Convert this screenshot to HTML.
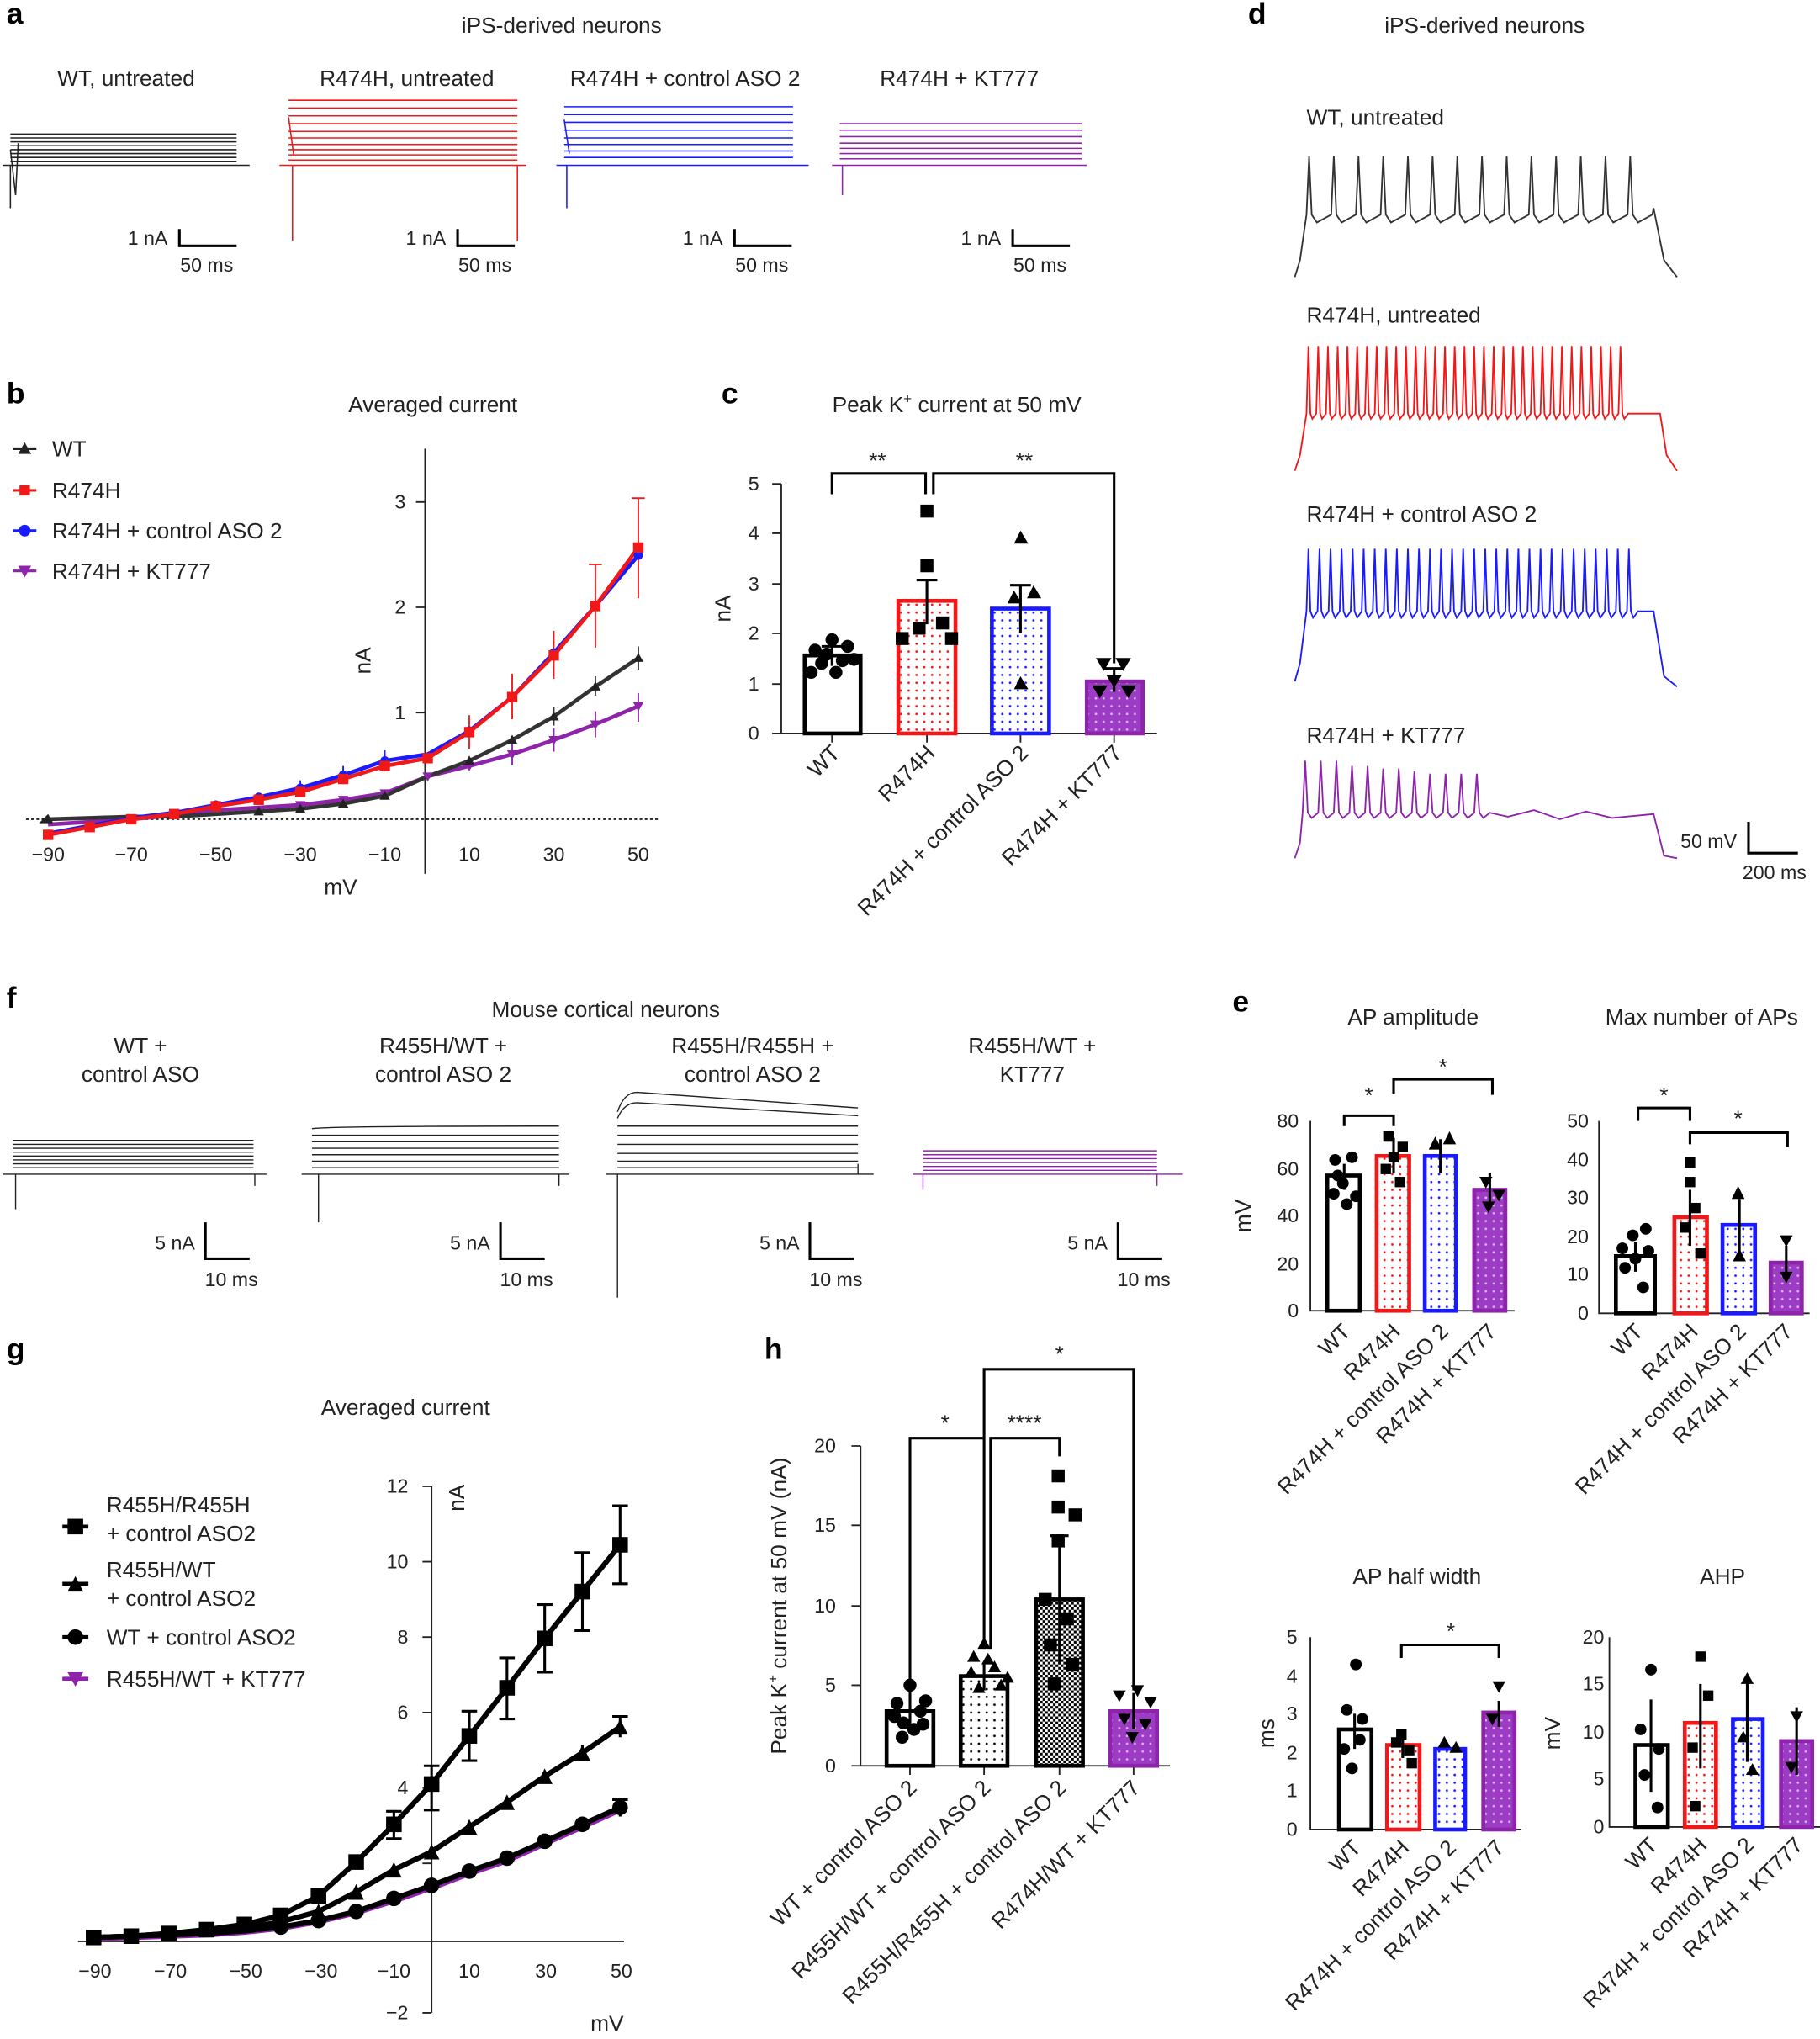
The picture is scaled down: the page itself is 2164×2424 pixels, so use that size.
<!DOCTYPE html>
<html><head><meta charset="utf-8"><style>
html,body{margin:0;padding:0;background:#fff}
svg{display:block}
text{font-family:"Liberation Sans",sans-serif;fill:#222}
.t{font-size:17px}.k{font-size:15px}.L{font-size:23px;font-weight:bold;fill:#000}
</style></head><body>
<svg width="2164" height="2424" viewBox="0 0 1400 1568" xmlns="http://www.w3.org/2000/svg">
<defs>
<pattern id="pr" width="6" height="6" patternUnits="userSpaceOnUse"><rect width="6" height="6" fill="#fff"/><circle cx="3" cy="3" r="0.9" fill="#f01818"/></pattern>
<pattern id="pb" width="6" height="6" patternUnits="userSpaceOnUse"><rect width="6" height="6" fill="#fff"/><circle cx="3" cy="3" r="0.9" fill="#1a1aff"/></pattern>
<pattern id="pp" width="6" height="6" patternUnits="userSpaceOnUse"><rect width="6" height="6" fill="#9c3cc4"/><circle cx="3" cy="3" r="0.9" fill="#d9b3ea"/></pattern>
<pattern id="pk" width="6" height="6" patternUnits="userSpaceOnUse"><rect width="6" height="6" fill="#fff"/><circle cx="3" cy="3" r="0.9" fill="#000"/></pattern>
<pattern id="pc" width="4" height="4" patternUnits="userSpaceOnUse"><rect width="4" height="4" fill="#fff"/><rect width="2" height="2" fill="#000"/><rect x="2" y="2" width="2" height="2" fill="#000"/></pattern>
</defs>

<!-- Panel a -->
<text class="L" x="5" y="18">a</text>
<text class="t" x="432" y="25" text-anchor="middle">iPS-derived neurons</text>
<text class="t" x="97" y="66" text-anchor="middle">WT, untreated</text>
<text class="t" x="313" y="66" text-anchor="middle">R474H, untreated</text>
<text class="t" x="527" y="66" text-anchor="middle">R474H + control ASO 2</text>
<text class="t" x="738" y="66" text-anchor="middle">R474H + KT777</text>
<path d="M8,103H182M8,106H182M8,109H182M8,112H182M8,115H182M8,118H182M8,121H182M8,124H182M2,127H192M8,127V160M8,115L12,150L14,110" stroke="#222" stroke-width="1" fill="none"/>
<path d="M222,77H398M222,83H398M222,89H398M222,95H398M222,101H398M222,106H398M222,111H398M222,115H398M222,119H398M222,123H398M215,127H405M225,127V185M398,127V185M222,90L226,120" stroke="#f01818" stroke-width="1" fill="none"/>
<path d="M434,82H610M434,88H610M434,94H610M434,100H610M434,106H610M434,111H610M434,116H610M434,121H610M428,127H622M436,127V160M434,92L438,118" stroke="#1a1aff" stroke-width="1" fill="none"/>
<path d="M646,95H832M646,100H832M646,105H832M646,110H832M646,114H832M646,118H832M646,122H832M640,127H836M648,127V150" stroke="#8e24aa" stroke-width="1" fill="none"/>
<g stroke="#000" stroke-width="2" fill="none">
<path d="M138,176V189H182"/><path d="M352,176V189H396"/><path d="M565,176V189H609"/><path d="M779,176V189H823"/></g>
<g class="k"><text x="129" y="188" text-anchor="end">1 nA</text><text x="159" y="209" text-anchor="middle">50 ms</text>
<text x="343" y="188" text-anchor="end">1 nA</text><text x="373" y="209" text-anchor="middle">50 ms</text>
<text x="556" y="188" text-anchor="end">1 nA</text><text x="586" y="209" text-anchor="middle">50 ms</text>
<text x="770" y="188" text-anchor="end">1 nA</text><text x="800" y="209" text-anchor="middle">50 ms</text></g>

<!-- Panel b -->
<text class="L" x="5" y="310">b</text>
<text class="t" x="333" y="317" text-anchor="middle">Averaged current</text>
<g class="t"><text x="40" y="351">WT</text><text x="40" y="383">R474H</text><text x="40" y="414">R474H + control ASO 2</text><text x="40" y="445">R474H + KT777</text></g>
<path d="M10,345H28" stroke="#222" stroke-width="2"/><path d="M14,349L19,340L24,349Z" fill="#222"/>
<path d="M10,377H28" stroke="#f01818" stroke-width="2"/><rect x="15" y="373" width="8" height="8" fill="#f01818"/>
<path d="M10,408H28" stroke="#1a1aff" stroke-width="2"/><circle cx="19" cy="408" r="4.5" fill="#1a1aff"/>
<path d="M10,439H28" stroke="#8e24aa" stroke-width="2"/><path d="M14,435L24,435L19,444Z" fill="#8e24aa"/>
<path d="M20,630H507" stroke="#222" stroke-width="1.2" stroke-dasharray="2,2"/>
<path d="M327,345V672" stroke="#222" stroke-width="1.2"/>
<g stroke="#222" stroke-width="1.2"><path d="M320,548H327M320,467H327M320,386H327"/></g>
<g class="k" text-anchor="end"><text x="312" y="553">1</text><text x="312" y="472">2</text><text x="312" y="391">3</text></g>
<g class="k" text-anchor="middle"><text x="37" y="662">−90</text><text x="101" y="662">−70</text><text x="166" y="662">−50</text><text x="231" y="662">−30</text><text x="296" y="662">−10</text><text x="361" y="662">10</text><text x="426" y="662">30</text><text x="491" y="662">50</text></g>
<text class="t" x="285" y="508" text-anchor="middle" transform="rotate(-90 285 508)">nA</text>
<text class="t" x="262" y="688" text-anchor="middle">mV</text>
<polyline points="37,634 69,632 101,630 134,627 166,623 199,621 231,619 264,615 296,610 329,597 361,589 394,580 426,569 458,557 491,543" fill="none" stroke="#8e24aa" stroke-width="3"/>
<polyline points="37,630 69,629 101,628 134,628 166,626 199,624 231,622 264,618 296,612 329,597 361,585 394,569 426,551 458,528 491,506" fill="none" stroke="#333" stroke-width="3"/>
<polyline points="37,641 69,635 101,629 134,625 166,619 199,613 231,606 264,596 296,585 329,580 361,562 394,536 426,502 458,466 491,427" fill="none" stroke="#1a1aff" stroke-width="3"/>
<polyline points="37,642 69,636 101,630 134,626 166,620 199,615 231,609 264,599 296,589 329,583 361,563 394,536 426,504 458,466 491,421" fill="none" stroke="#f01818" stroke-width="3"/>
<g stroke="#f01818" stroke-width="1.2"><path d="M491,383V460M486,383H496M458,434V498M453,434H463M426,485V522M394,518V553M361,550V576"/></g>
<g stroke="#8e24aa" stroke-width="1.2"><path d="M491,533V555M458,547V567M426,560V578M394,572V588"/></g>
<g stroke="#333" stroke-width="1.2"><path d="M491,497V515M458,520V535M426,544V558"/></g>
<g fill="#8e24aa"><path d="M487,540H495L491,547Z M454,554H462L458,561Z M422,566H430L426,573Z M390,577H398L394,584Z M357,586H365L361,593Z M325,594H333L329,601Z M292,607H300L296,614Z M260,612H268L264,619Z M227,616H235L231,623Z"/></g>
<g fill="#222"><path d="M487,509L491,502L495,509Z M454,531L458,524L462,531Z M422,554L426,547L430,554Z M390,572L394,565L398,572Z M357,588L361,581L365,588Z M292,615L296,608L300,615Z M260,621L264,614L268,621Z M227,625L231,618L235,625Z M195,627L199,620L203,627Z M30,633L37,626L41,633Z"/></g>
<g fill="#1a1aff"><circle cx="491" cy="427" r="3.5"/><circle cx="458" cy="466" r="3.5"/><circle cx="426" cy="502" r="3.5"/><circle cx="394" cy="536" r="3.5"/><circle cx="361" cy="562" r="3.5"/><circle cx="296" cy="585" r="3.5"/><circle cx="264" cy="596" r="3.5"/><circle cx="231" cy="606" r="3.5"/><circle cx="199" cy="613" r="3.5"/><circle cx="166" cy="619" r="3.5"/></g>
<g stroke="#1a1aff" stroke-width="1.2"><path d="M296,577V593M264,589V603M231,600V612"/></g>
<g fill="#f01818"><rect x="487" y="417" width="8" height="8"/><rect x="454" y="462" width="8" height="8"/><rect x="422" y="500" width="8" height="8"/><rect x="390" y="532" width="8" height="8"/><rect x="357" y="559" width="8" height="8"/><rect x="325" y="579" width="8" height="8"/><rect x="292" y="585" width="8" height="8"/><rect x="260" y="595" width="8" height="8"/><rect x="227" y="605" width="8" height="8"/><rect x="195" y="611" width="8" height="8"/><rect x="162" y="616" width="8" height="8"/><rect x="130" y="622" width="8" height="8"/><rect x="97" y="626" width="8" height="8"/><rect x="65" y="632" width="8" height="8"/><rect x="33" y="638" width="8" height="8"/></g>

<!-- Panel c -->
<text class="L" x="555" y="310">c</text>
<text class="t" x="736" y="317" text-anchor="middle">Peak K<tspan font-size="11" dy="-7">+</tspan><tspan dy="7"> current at 50 mV</tspan></text>
<path d="M601,372V564H890" stroke="#222" stroke-width="1.2" fill="none"/>
<g stroke="#222" stroke-width="1.2"><path d="M594,372H601M594,410H601M594,449H601M594,487H601M594,526H601M594,564H601M640,564V571M713,564V571M785,564V571M857,564V571"/></g>
<g class="k" text-anchor="end"><text x="584" y="377">5</text><text x="584" y="415">4</text><text x="584" y="454">3</text><text x="584" y="492">2</text><text x="584" y="531">1</text><text x="584" y="569">0</text></g>
<text class="t" x="562" y="468" text-anchor="middle" transform="rotate(-90 562 468)">nA</text>
<rect x="619" y="504" width="43" height="60" fill="#fff" stroke="#000" stroke-width="3"/>
<rect x="691" y="462" width="44" height="102" fill="url(#pr)" stroke="#f01818" stroke-width="3"/>
<rect x="763" y="468" width="44" height="96" fill="url(#pb)" stroke="#1a1aff" stroke-width="3"/>
<rect x="836" y="524" width="43" height="40" fill="url(#pp)" stroke="#8e24aa" stroke-width="3"/>
<g stroke="#000" stroke-width="2" fill="none"><path d="M640,497V512M632,497H648M713,446V480M705,446H721M785,450V487M777,450H793M857,514V532M849,514H865"/>
<path d="M640,380V364H712V380M718,380V364H857V510"/></g>
<text x="675" y="360" text-anchor="middle" font-size="17">**</text><text x="788" y="360" text-anchor="middle" font-size="17">**</text>
<g fill="#000"><circle cx="627" cy="500" r="5"/><circle cx="640" cy="492" r="5"/><circle cx="652" cy="497" r="5"/><circle cx="632" cy="510" r="5"/><circle cx="648" cy="508" r="5"/><circle cx="657" cy="507" r="5"/><circle cx="624" cy="517" r="5"/><circle cx="643" cy="517" r="5"/><circle cx="636" cy="503" r="5"/>
<rect x="708" y="388" width="10" height="10"/><rect x="708" y="430" width="10" height="10"/><rect x="689" y="486" width="10" height="10"/><rect x="702" y="478" width="10" height="10"/><rect x="727" y="486" width="10" height="10"/><rect x="720" y="474" width="10" height="10"/>
<path d="M780,418L791,418L785,408Z M775,464L786,464L780,454Z M790,460L801,460L795,450Z M780,530L791,530L785,520Z"/>
<path d="M843,506H855L849,516Z M858,506H870L864,516Z M840,527H852L846,537Z M862,527H874L868,537Z M851,519H863L857,529Z"/></g>
<g class="t"><text text-anchor="end" transform="translate(647,580) rotate(-45)">WT</text><text text-anchor="end" transform="translate(720,580) rotate(-45)">R474H</text><text text-anchor="end" transform="translate(792,580) rotate(-45)">R474H + control ASO 2</text><text text-anchor="end" transform="translate(864,580) rotate(-45)">R474H + KT777</text></g>

<!-- Panel d -->
<text class="L" x="960" y="18">d</text>
<text class="t" x="1142" y="25" text-anchor="middle">iPS-derived neurons</text>
<g class="t"><text x="1005" y="96">WT, untreated</text><text x="1005" y="248">R474H, untreated</text><text x="1005" y="401">R474H + control ASO 2</text><text x="1005" y="571">R474H + KT777</text></g>
<path d="M996,213L1000,200L1005,165l2,-45l2,45l4,6l11,-6l2,-45l2,45l4,6l11,-6l2,-45l2,45l4,6l11,-6l2,-45l2,45l4,6l11,-6l2,-45l2,45l4,6l11,-6l2,-45l2,45l4,6l11,-6l2,-45l2,45l4,6l11,-6l2,-45l2,45l4,6l11,-6l2,-45l2,45l4,6l11,-6l2,-45l2,45l4,6l11,-6l2,-45l2,45l4,6l11,-6l2,-45l2,45l4,6l11,-6l2,-45l2,45l4,6l11,-6l2,-45l2,45l4,6l11,-6L1272,160L1280,200L1290,213" fill="none" stroke="#333" stroke-width="1.2"/>
<path d="M996,362L1000,350L1005,318l1.5,-52l1.5,52l1.5,4l3,-4l1.5,-52l1.5,52l1.5,4l3,-4l1.5,-52l1.5,52l1.5,4l3,-4l1.5,-52l1.5,52l1.5,4l3,-4l1.5,-52l1.5,52l1.5,4l3,-4l1.5,-52l1.5,52l1.5,4l3,-4l1.5,-52l1.5,52l1.5,4l3,-4l1.5,-52l1.5,52l1.5,4l3,-4l1.5,-52l1.5,52l1.5,4l3,-4l1.5,-52l1.5,52l1.5,4l3,-4l1.5,-52l1.5,52l1.5,4l3,-4l1.5,-52l1.5,52l1.5,4l3,-4l1.5,-52l1.5,52l1.5,4l3,-4l1.5,-52l1.5,52l1.5,4l3,-4l1.5,-52l1.5,52l1.5,4l3,-4l1.5,-52l1.5,52l1.5,4l3,-4l1.5,-52l1.5,52l1.5,4l3,-4l1.5,-52l1.5,52l1.5,4l3,-4l1.5,-52l1.5,52l1.5,4l3,-4l1.5,-52l1.5,52l1.5,4l3,-4l1.5,-52l1.5,52l1.5,4l3,-4l1.5,-52l1.5,52l1.5,4l3,-4l1.5,-52l1.5,52l1.5,4l3,-4l1.5,-52l1.5,52l1.5,4l3,-4l1.5,-52l1.5,52l1.5,4l3,-4l1.5,-52l1.5,52l1.5,4l3,-4l1.5,-52l1.5,52l1.5,4l3,-4l1.5,-52l1.5,52l1.5,4l3,-4l1.5,-52l1.5,52l1.5,4l3,-4l1.5,-52l1.5,52l1.5,4l3,-4l1.5,-52l1.5,52l1.5,4l3,-4l1.5,-52l1.5,52l1.5,4l3,-4l1.5,-52l1.5,52l1.5,4l3,-4L1277,318L1282,350L1290,362" fill="none" stroke="#f01818" stroke-width="1.2"/>
<path d="M996,524L1000,510L1005,470l1.5,-48l1.5,48l2,5l3.5,-5l1.5,-48l1.5,48l2,5l3.5,-5l1.5,-48l1.5,48l2,5l3.5,-5l1.5,-48l1.5,48l2,5l3.5,-5l1.5,-48l1.5,48l2,5l3.5,-5l1.5,-48l1.5,48l2,5l3.5,-5l1.5,-48l1.5,48l2,5l3.5,-5l1.5,-48l1.5,48l2,5l3.5,-5l1.5,-48l1.5,48l2,5l3.5,-5l1.5,-48l1.5,48l2,5l3.5,-5l1.5,-48l1.5,48l2,5l3.5,-5l1.5,-48l1.5,48l2,5l3.5,-5l1.5,-48l1.5,48l2,5l3.5,-5l1.5,-48l1.5,48l2,5l3.5,-5l1.5,-48l1.5,48l2,5l3.5,-5l1.5,-48l1.5,48l2,5l3.5,-5l1.5,-48l1.5,48l2,5l3.5,-5l1.5,-48l1.5,48l2,5l3.5,-5l1.5,-48l1.5,48l2,5l3.5,-5l1.5,-48l1.5,48l2,5l3.5,-5l1.5,-48l1.5,48l2,5l3.5,-5l1.5,-48l1.5,48l2,5l3.5,-5l1.5,-48l1.5,48l2,5l3.5,-5l1.5,-48l1.5,48l2,5l3.5,-5l1.5,-48l1.5,48l2,5l3.5,-5l1.5,-48l1.5,48l2,5l3.5,-5l1.5,-48l1.5,48l2,5l3.5,-5l1.5,-48l1.5,48l2,5l3.5,-5l1.5,-48l1.5,48l2,5l3.5,-5l1.5,-48l1.5,48l2,5l3.5,-5L1272,470L1280,520L1290,528" fill="none" stroke="#1a1aff" stroke-width="1.2"/>
<path d="M996,660L1000,648L1002,625l2,-40l2,40l3,4l5,-4l2,-40l2,40l3,4l5,-4l2,-40l2,40l3,4l5,-4l2,-36l2,36l3,4l5,-4l2,-36l2,36l3,4l5,-4l2,-34l2,34l3,4l5,-4l2,-34l2,34l3,4l5,-4l2,-32l2,32l3,4l5,-4l2,-30l2,30l3,4l5,-4l2,-30l2,30l3,4l5,-4l2,-30l2,30l3,4l5,-4l2,-30l2,30l3,4l5,-4L1160,628L1180,623L1200,630L1220,624L1240,629L1272,626L1280,658L1290,660" fill="none" stroke="#8e24aa" stroke-width="1.2"/>
<path d="M1345,632V656H1383" stroke="#000" stroke-width="2" fill="none"/>
<text class="k" x="1336" y="652" text-anchor="end">50 mV</text><text class="k" x="1365" y="676" text-anchor="middle">200 ms</text>

<!-- Panel f -->
<text class="L" x="5" y="775">f</text>
<text class="t" x="466" y="782" text-anchor="middle">Mouse cortical neurons</text>
<g class="t" text-anchor="middle"><text x="108" y="810">WT +</text><text x="108" y="832">control ASO</text><text x="341" y="810">R455H/WT +</text><text x="341" y="832">control ASO 2</text><text x="579" y="810">R455H/R455H +</text><text x="579" y="832">control ASO 2</text><text x="794" y="810">R455H/WT +</text><text x="794" y="832">KT777</text></g>
<path d="M10,877H195M10,880H195M10,883H195M10,886H195M10,889H195M10,892H195M10,895H195M10,898H195M2,903H205M12,903V930M196,903V912" stroke="#222" stroke-width="0.9" fill="none"/>
<path d="M240,868Q250,866 430,866M240,873H430M240,878H430M240,883H430M240,888H430M240,893H430M240,898H430M232,903H438M245,903V940M430,903V912" stroke="#222" stroke-width="0.9" fill="none"/>
<path d="M475,855Q480,840 490,840L660,852M475,860Q480,848 490,848L660,858M475,866L660,866M475,873L660,873M475,880L660,880M475,887L660,887M475,893L660,893M475,898L660,898M466,903H672M475,903V998M660,903V895" stroke="#222" stroke-width="0.9" fill="none"/>
<path d="M710,885H890M710,888H890M710,891H890M710,894H890M710,897H890M710,900H890M702,903H910M710,903V915M890,903V912" stroke="#8e24aa" stroke-width="0.9" fill="none"/>
<g stroke="#000" stroke-width="2" fill="none"><path d="M158,940V968H192"/><path d="M385,940V968H419"/><path d="M623,940V968H657"/><path d="M860,940V968H894"/></g>
<g class="k"><text x="150" y="961" text-anchor="end">5 nA</text><text x="178" y="989" text-anchor="middle">10 ms</text><text x="377" y="961" text-anchor="end">5 nA</text><text x="405" y="989" text-anchor="middle">10 ms</text><text x="615" y="961" text-anchor="end">5 nA</text><text x="643" y="989" text-anchor="middle">10 ms</text><text x="852" y="961" text-anchor="end">5 nA</text><text x="880" y="989" text-anchor="middle">10 ms</text></g>

<!-- Panel g -->
<text class="L" x="5" y="1045">g</text>
<text class="t" x="312" y="1088" text-anchor="middle">Averaged current</text>
<path d="M60,1493H480" stroke="#222" stroke-width="1.2"/>
<path d="M332,1143V1548M325,1143H332M325,1201H332M325,1259H332M325,1317H332M325,1375H332M325,1433H332M325,1548H332" stroke="#222" stroke-width="1.2" fill="none"/>
<g class="k" text-anchor="end"><text x="314" y="1148">12</text><text x="314" y="1206">10</text><text x="314" y="1264">8</text><text x="314" y="1322">6</text><text x="314" y="1380">4</text><text x="314" y="1553">−2</text></g>
<g class="k" text-anchor="middle"><text x="73" y="1521">−90</text><text x="131" y="1521">−70</text><text x="189" y="1521">−50</text><text x="247" y="1521">−30</text><text x="303" y="1521">−10</text><text x="361" y="1521">10</text><text x="420" y="1521">30</text><text x="478" y="1521">50</text></g>
<text class="t" x="467" y="1562" text-anchor="middle">mV</text>
<text class="t" x="357" y="1152" text-anchor="middle" transform="rotate(-90 357 1152)">nA</text>
<g class="t"><text x="82" y="1163">R455H/R455H</text><text x="82" y="1185">+ control ASO2</text><text x="82" y="1213">R455H/WT</text><text x="82" y="1235">+ control ASO2</text><text x="82" y="1265">WT + control ASO2</text><text x="82" y="1297">R455H/WT + KT777</text></g>
<path d="M48,1174H68" stroke="#000" stroke-width="3"/><rect x="52" y="1168" width="12" height="12"/>
<path d="M48,1218H68" stroke="#000" stroke-width="3"/><path d="M52,1224L58,1212L64,1224Z"/>
<path d="M48,1259H68" stroke="#000" stroke-width="3"/><circle cx="58" cy="1259" r="6"/>
<path d="M48,1291H68" stroke="#8e24aa" stroke-width="3"/><path d="M52,1286H64L58,1297Z" fill="#8e24aa"/>
<polyline points="72,1491 101,1490 130,1489 159,1488 188,1486 216,1483 245,1478 274,1471 303,1462 332,1452 361,1441 390,1431 419,1418 448,1405 477,1392" fill="none" stroke="#8e24aa" stroke-width="4"/>
<polyline points="72,1490 101,1489 130,1488 159,1487 188,1485 216,1482 245,1477 274,1470 303,1460 332,1450 361,1439 390,1429 419,1416 448,1403 477,1390" fill="none" stroke="#000" stroke-width="4"/>
<polyline points="72,1490 101,1489 130,1487 159,1486 188,1483 216,1478 245,1470 274,1455 303,1438 332,1424 361,1405 390,1386 419,1366 448,1348 477,1328" fill="none" stroke="#000" stroke-width="4"/>
<polyline points="72,1490 101,1489 130,1487 159,1484 188,1480 216,1473 245,1458 274,1432 303,1403 332,1372 361,1335 390,1298 419,1260 448,1224 477,1188" fill="none" stroke="#000" stroke-width="4"/>
<g stroke="#000" stroke-width="2" fill="none"><path d="M477,1158V1218M471,1158H483M471,1218H483M448,1194V1254M442,1194H454M442,1254H454M419,1234V1286M413,1234H425M413,1286H425M390,1275V1322M384,1275H396M384,1322H396M361,1316V1354M355,1316H367M355,1354H367M332,1358V1392M326,1358H338M326,1392H338M303,1393V1414M297,1393H309M297,1414H309M477,1320V1336M471,1320H483M448,1342V1354M477,1384V1397M471,1384H483"/></g>
<g fill="#000">
<rect x="471" y="1182" width="12" height="12"/><rect x="442" y="1218" width="12" height="12"/><rect x="413" y="1254" width="12" height="12"/><rect x="384" y="1292" width="12" height="12"/><rect x="355" y="1329" width="12" height="12"/><rect x="326" y="1366" width="12" height="12"/><rect x="297" y="1397" width="12" height="12"/><rect x="268" y="1426" width="12" height="12"/><rect x="239" y="1452" width="12" height="12"/><rect x="210" y="1467" width="12" height="12"/><rect x="182" y="1474" width="12" height="12"/><rect x="153" y="1478" width="12" height="12"/><rect x="124" y="1481" width="12" height="12"/><rect x="95" y="1483" width="12" height="12"/><rect x="66" y="1484" width="12" height="12"/>
<path d="M471,1334L477,1322L483,1334Z M442,1354L448,1342L454,1354Z M413,1372L419,1360L425,1372Z M384,1392L390,1380L396,1392Z M355,1411L361,1399L367,1411Z M326,1430L332,1418L338,1430Z M297,1444L303,1432L309,1444Z M268,1461L274,1449L280,1461Z M239,1476L245,1464L251,1476Z"/>
<circle cx="477" cy="1390" r="6"/><circle cx="448" cy="1403" r="6"/><circle cx="419" cy="1416" r="6"/><circle cx="390" cy="1429" r="6"/><circle cx="361" cy="1439" r="6"/><circle cx="332" cy="1450" r="6"/><circle cx="303" cy="1460" r="6"/><circle cx="274" cy="1470" r="6"/><circle cx="245" cy="1477" r="6"/><circle cx="216" cy="1482" r="6"/></g>

<!-- Panel h -->
<text class="L" x="588" y="1045">h</text>
<path d="M662,1112V1358H900" stroke="#222" stroke-width="1.2" fill="none"/>
<g stroke="#222" stroke-width="1.2"><path d="M655,1112H662M655,1173H662M655,1235H662M655,1296H662M655,1358H662M700,1358V1365M757,1358V1365M815,1358V1365M872,1358V1365"/></g>
<g class="k" text-anchor="end"><text x="643" y="1117">20</text><text x="643" y="1178">15</text><text x="643" y="1240">10</text><text x="643" y="1301">5</text><text x="643" y="1363">0</text></g>
<text class="t" x="605" y="1235" text-anchor="middle" transform="rotate(-90 605 1235)">Peak K<tspan font-size="11" dy="-7">+</tspan><tspan dy="7"> current at 50 mV (nA)</tspan></text>
<rect x="682" y="1316" width="36" height="42" fill="#fff" stroke="#000" stroke-width="3"/>
<rect x="739" y="1289" width="36" height="69" fill="url(#pk)" stroke="#000" stroke-width="3"/>
<rect x="797" y="1230" width="36" height="128" fill="url(#pc)" stroke="#000" stroke-width="3"/>
<rect x="854" y="1316" width="36" height="42" fill="url(#pp)" stroke="#8e24aa" stroke-width="3"/>
<g stroke="#000" stroke-width="2" fill="none"><path d="M700,1300V1330M757,1278V1300M815,1181V1280M808,1181H822M872,1302V1330M700,1300V1106H757V1268M762,1268V1106H815V1120M757,1110V1053H872V1300"/></g>
<g font-size="17" text-anchor="middle"><text x="727" y="1100">*</text><text x="788" y="1100">****</text><text x="815" y="1047">*</text></g>
<g fill="#000"><circle cx="690" cy="1310" r="5"/><circle cx="700" cy="1296" r="5"/><circle cx="708" cy="1316" r="5"/><circle cx="695" cy="1325" r="5"/><circle cx="712" cy="1308" r="5"/><circle cx="703" cy="1330" r="5"/><circle cx="688" cy="1320" r="5"/><circle cx="694" cy="1336" r="5"/><circle cx="710" cy="1326" r="5"/>
<path d="M752,1268L757,1259L762,1268Z M742,1290L747,1281L752,1290Z M760,1286L765,1277L770,1286Z M748,1302L753,1293L758,1302Z M765,1300L770,1291L775,1300Z M755,1280L760,1271L765,1280Z M770,1294L775,1285L780,1294Z M744,1278L749,1269L754,1278Z"/>
<rect x="809" y="1130" width="10" height="10"/><rect x="809" y="1154" width="10" height="10"/><rect x="822" y="1160" width="10" height="10"/><rect x="809" y="1180" width="10" height="10"/><rect x="799" y="1225" width="10" height="10"/><rect x="816" y="1240" width="10" height="10"/><rect x="803" y="1260" width="10" height="10"/><rect x="820" y="1275" width="10" height="10"/><rect x="806" y="1290" width="10" height="10"/>
<path d="M856,1300H866L861,1309Z M870,1296H880L875,1305Z M880,1305H890L885,1314Z M860,1318H870L865,1327Z M876,1322H886L881,1331Z M866,1332H876L871,1341Z"/></g>
<g class="t"><text text-anchor="end" transform="translate(706,1376) rotate(-45)">WT + control ASO 2</text><text text-anchor="end" transform="translate(763,1376) rotate(-45)">R455H/WT + control ASO 2</text><text text-anchor="end" transform="translate(821,1376) rotate(-45)">R455H/R455H + control ASO 2</text><text text-anchor="end" transform="translate(878,1376) rotate(-45)">R474H/WT + KT777</text></g>

<!-- Panel e -->
<text class="L" x="948" y="778">e</text>
<text class="t" x="1087" y="788" text-anchor="middle">AP amplitude</text>
<text class="t" x="1309" y="788" text-anchor="middle">Max number of APs</text>
<text class="t" x="1090" y="1218" text-anchor="middle">AP half width</text>
<text class="t" x="1325" y="1218" text-anchor="middle">AHP</text>
<!-- e1 -->
<path d="M1008,862V1008H1165" stroke="#222" stroke-width="1.2" fill="none"/>
<g class="k" text-anchor="end"><text x="999" y="867">80</text><text x="999" y="904">60</text><text x="999" y="940">40</text><text x="999" y="977">20</text><text x="999" y="1013">0</text></g>
<text class="t" x="962" y="935" text-anchor="middle" transform="rotate(-90 962 935)">mV</text>
<rect x="1021" y="904" width="25" height="104" fill="#fff" stroke="#000" stroke-width="3"/>
<rect x="1059" y="889" width="25" height="119" fill="url(#pr)" stroke="#f01818" stroke-width="3"/>
<rect x="1096" y="889" width="24" height="119" fill="url(#pb)" stroke="#1a1aff" stroke-width="3"/>
<rect x="1134" y="915" width="24" height="93" fill="url(#pp)" stroke="#8e24aa" stroke-width="3"/>
<g stroke="#000" stroke-width="2" fill="none"><path d="M1034,866V858H1072V866M1072,841V830H1148V842M1034,895V915M1072,875V902M1108,876V902M1146,902V928"/></g>
<g font-size="17" text-anchor="middle"><text x="1053" y="848">*</text><text x="1110" y="826">*</text></g>
<g fill="#000"><circle cx="1027" cy="892" r="4.5"/><circle cx="1040" cy="890" r="4.5"/><circle cx="1033" cy="910" r="4.5"/><circle cx="1043" cy="920" r="4.5"/><circle cx="1026" cy="918" r="4.5"/><circle cx="1036" cy="926" r="4.5"/><circle cx="1029" cy="904" r="4.5"/><rect x="1064" y="870" width="8" height="8"/><rect x="1075" y="878" width="8" height="8"/><rect x="1062" y="895" width="8" height="8"/><rect x="1073" y="905" width="8" height="8"/><rect x="1068" y="886" width="8" height="8"/><path d="M1099,884H1109L1104,874Z M1110,880H1120L1115,870Z M1138,905H1148L1143,914Z M1148,915H1158L1153,924Z M1140,924H1150L1145,933Z"/></g>
<!-- e2 -->
<path d="M1230,862V1010H1392" stroke="#222" stroke-width="1.2" fill="none"/>
<g class="k" text-anchor="end"><text x="1222" y="867">50</text><text x="1222" y="897">40</text><text x="1222" y="926">30</text><text x="1222" y="956">20</text><text x="1222" y="985">10</text><text x="1222" y="1015">0</text></g>
<rect x="1243" y="966" width="30" height="44" fill="#fff" stroke="#000" stroke-width="3"/>
<rect x="1288" y="936" width="25" height="74" fill="url(#pr)" stroke="#f01818" stroke-width="3"/>
<rect x="1325" y="942" width="25" height="68" fill="url(#pb)" stroke="#1a1aff" stroke-width="3"/>
<rect x="1362" y="971" width="24" height="39" fill="url(#pp)" stroke="#8e24aa" stroke-width="3"/>
<g stroke="#000" stroke-width="2" fill="none"><path d="M1260,862V852H1300V862M1300,880V871H1375V882M1258,955V978M1300,915V958M1338,922V962M1374,958V985"/></g>
<g font-size="17" text-anchor="middle"><text x="1280" y="848">*</text><text x="1337" y="866">*</text></g>
<g fill="#000"><circle cx="1256" cy="950" r="4.5"/><circle cx="1266" cy="945" r="4.5"/><circle cx="1250" cy="975" r="4.5"/><circle cx="1264" cy="990" r="4.5"/><circle cx="1258" cy="968" r="4.5"/><circle cx="1268" cy="962" r="4.5"/><circle cx="1248" cy="960" r="4.5"/><rect x="1296" y="890" width="8" height="8"/><rect x="1296" y="905" width="8" height="8"/><rect x="1292" y="940" width="8" height="8"/><rect x="1304" y="960" width="8" height="8"/><rect x="1300" y="925" width="8" height="8"/><path d="M1332,922H1342L1337,912Z M1333,970H1343L1338,960Z M1369,950H1379L1374,959Z M1369,978H1379L1374,987Z"/></g>
<!-- e3 -->
<path d="M1008,1259V1407H1170" stroke="#222" stroke-width="1.2" fill="none"/>
<g class="k" text-anchor="end"><text x="998" y="1264">5</text><text x="998" y="1294">4</text><text x="998" y="1323">3</text><text x="998" y="1353">2</text><text x="998" y="1382">1</text><text x="998" y="1412">0</text></g>
<text class="t" x="980" y="1333" text-anchor="middle" transform="rotate(-90 980 1333)">ms</text>
<rect x="1030" y="1330" width="25" height="77" fill="#fff" stroke="#000" stroke-width="3"/>
<rect x="1067" y="1342" width="25" height="65" fill="url(#pr)" stroke="#f01818" stroke-width="3"/>
<rect x="1104" y="1345" width="23" height="62" fill="url(#pb)" stroke="#1a1aff" stroke-width="3"/>
<rect x="1141" y="1317" width="24" height="90" fill="url(#pp)" stroke="#8e24aa" stroke-width="3"/>
<path d="M1078,1275V1265H1153V1275M1042,1318V1345M1079,1332V1352M1153,1308V1328" stroke="#000" stroke-width="2" fill="none"/>
<text x="1116" y="1260" font-size="17" text-anchor="middle">*</text>
<g fill="#000"><circle cx="1043" cy="1280" r="4.5"/><circle cx="1036" cy="1315" r="4.5"/><circle cx="1048" cy="1322" r="4.5"/><circle cx="1040" cy="1360" r="4.5"/><circle cx="1034" cy="1345" r="4.5"/><circle cx="1046" cy="1338" r="4.5"/><rect x="1070" y="1336" width="8" height="8"/><rect x="1080" y="1342" width="8" height="8"/><rect x="1074" y="1330" width="8" height="8"/><rect x="1082" y="1352" width="8" height="8"/><path d="M1106,1344H1116L1111,1335Z M1115,1348H1125L1120,1339Z M1148,1293H1158L1153,1302Z M1143,1318H1153L1148,1327Z"/></g>
<!-- e4 -->
<path d="M1238,1259V1405H1400" stroke="#222" stroke-width="1.2" fill="none"/>
<g class="k" text-anchor="end"><text x="1234" y="1264">20</text><text x="1234" y="1300">15</text><text x="1234" y="1337">10</text><text x="1234" y="1373">5</text><text x="1234" y="1410">0</text></g>
<text class="t" x="1200" y="1333" text-anchor="middle" transform="rotate(-90 1200 1333)">mV</text>
<rect x="1258" y="1342" width="25" height="63" fill="#fff" stroke="#000" stroke-width="3"/>
<rect x="1296" y="1325" width="24" height="80" fill="url(#pr)" stroke="#f01818" stroke-width="3"/>
<rect x="1333" y="1322" width="23" height="83" fill="url(#pb)" stroke="#1a1aff" stroke-width="3"/>
<rect x="1370" y="1339" width="24" height="66" fill="url(#pp)" stroke="#8e24aa" stroke-width="3"/>
<g stroke="#000" stroke-width="2" fill="none"><path d="M1270,1307V1378M1308,1295V1360M1344,1290V1355M1382,1313V1365"/></g>
<g fill="#000"><circle cx="1270" cy="1284" r="4.5"/><circle cx="1265" cy="1365" r="4.5"/><circle cx="1275" cy="1390" r="4.5"/><circle cx="1262" cy="1330" r="4.5"/><circle cx="1276" cy="1345" r="4.5"/><rect x="1304" y="1270" width="8" height="8"/><rect x="1300" y="1385" width="8" height="8"/><rect x="1310" y="1300" width="8" height="8"/><rect x="1298" y="1340" width="8" height="8"/><path d="M1339,1295H1349L1344,1286Z M1336,1340H1346L1341,1331Z M1343,1365H1353L1348,1356Z M1377,1316H1387L1382,1325Z M1373,1355H1383L1378,1364Z"/></g>
<g class="t">
<text text-anchor="end" transform="translate(1040,1025) rotate(-45)">WT</text><text text-anchor="end" transform="translate(1078,1025) rotate(-45)">R474H</text><text text-anchor="end" transform="translate(1115,1025) rotate(-45)">R474H + control ASO 2</text><text text-anchor="end" transform="translate(1152,1025) rotate(-45)">R474H + KT777</text>
<text text-anchor="end" transform="translate(1265,1025) rotate(-45)">WT</text><text text-anchor="end" transform="translate(1307,1025) rotate(-45)">R474H</text><text text-anchor="end" transform="translate(1344,1025) rotate(-45)">R474H + control ASO 2</text><text text-anchor="end" transform="translate(1380,1025) rotate(-45)">R474H + KT777</text>
<text text-anchor="end" transform="translate(1048,1422) rotate(-45)">WT</text><text text-anchor="end" transform="translate(1085,1422) rotate(-45)">R474H</text><text text-anchor="end" transform="translate(1121,1422) rotate(-45)">R474H + control ASO 2</text><text text-anchor="end" transform="translate(1158,1422) rotate(-45)">R474H + KT777</text>
<text text-anchor="end" transform="translate(1276,1420) rotate(-45)">WT</text><text text-anchor="end" transform="translate(1314,1420) rotate(-45)">R474H</text><text text-anchor="end" transform="translate(1350,1420) rotate(-45)">R474H + control ASO 2</text><text text-anchor="end" transform="translate(1388,1420) rotate(-45)">R474H + KT777</text></g>
</svg>
</body></html>
